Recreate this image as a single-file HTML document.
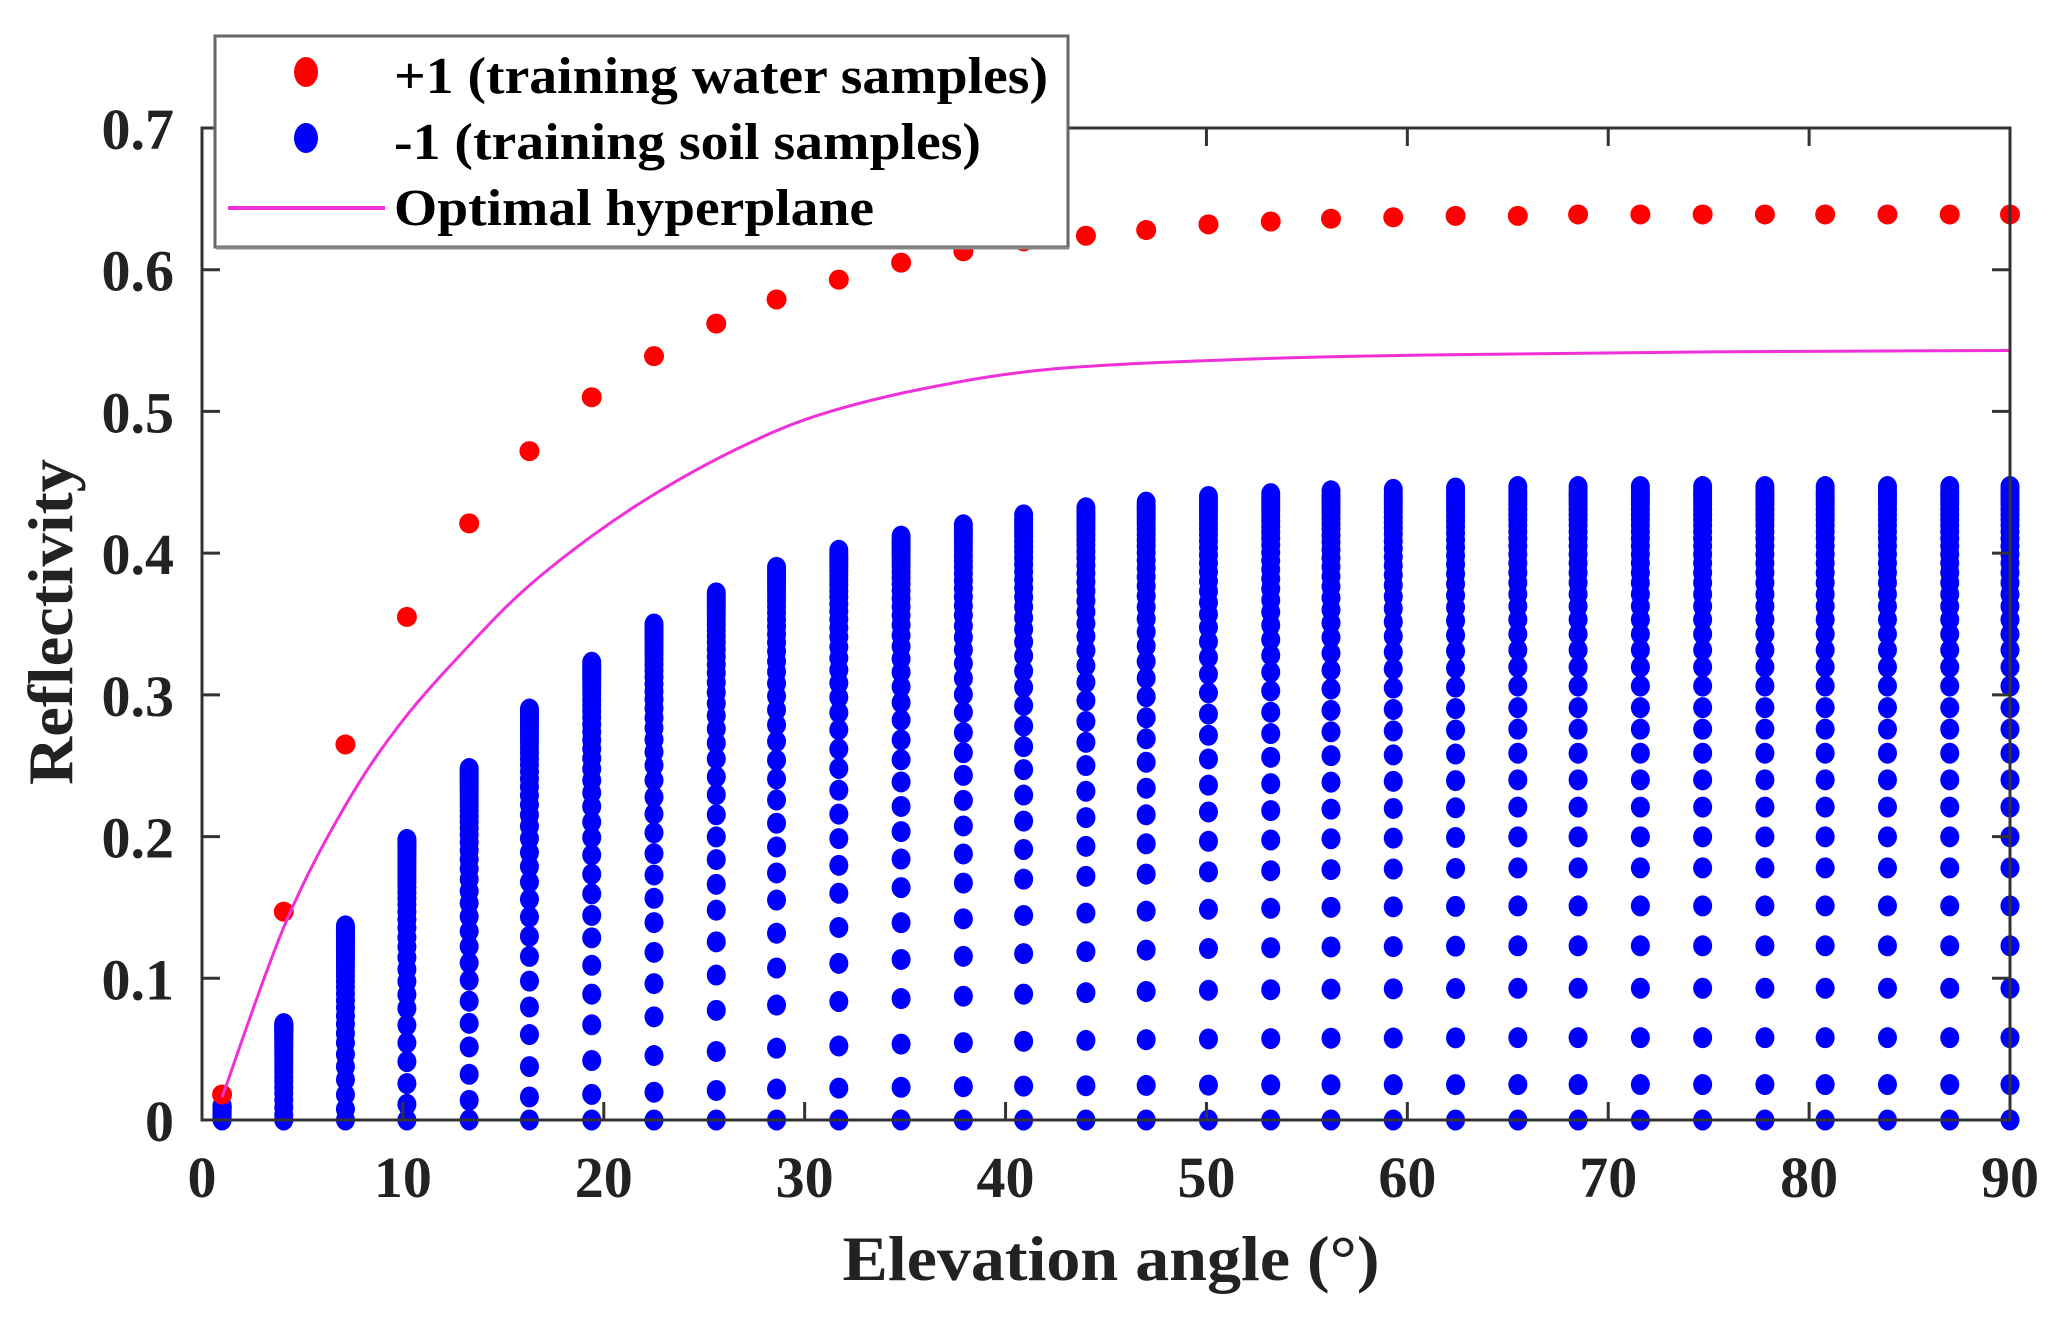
<!DOCTYPE html>
<html><head><meta charset="utf-8"><style>
html,body{margin:0;padding:0;background:#fff;}
svg{display:block;font-family:"Liberation Serif",serif;font-weight:bold;}
</style></head><body>
<svg id="chart" width="2063" height="1317" viewBox="0 0 2063 1317" xmlns="http://www.w3.org/2000/svg">
<g id="soil"></g>
<g id="water"></g>
<path id="hyper" fill="none" stroke="#f030d8" stroke-width="3"/>
<rect x="202" y="128" width="1808" height="992" fill="none" stroke="#333" stroke-width="3"/>
<g id="ticks"></g>
<text transform="translate(72,622) rotate(-90)" text-anchor="middle" font-size="64" textLength="326" lengthAdjust="spacingAndGlyphs" fill="#222">Reflectivity</text>
<text x="1111" y="1280" text-anchor="middle" font-size="64" textLength="537" lengthAdjust="spacingAndGlyphs" fill="#222">Elevation angle (°)</text>
<g>
<rect x="215" y="36" width="853" height="211" fill="#fff" stroke="#666" stroke-width="3"/>
<line x1="216" y1="248" x2="1069" y2="248" stroke="#888" stroke-width="3"/>
<ellipse cx="306" cy="72" rx="12" ry="15" fill="#ff0000"/>
<text x="394" y="93" font-size="52" textLength="654" lengthAdjust="spacingAndGlyphs">+1 (training water samples)</text>
<ellipse cx="306" cy="138" rx="12" ry="15" fill="#0000ff"/>
<text x="394" y="159" font-size="52" textLength="587" lengthAdjust="spacingAndGlyphs">-1 (training soil samples)</text>
<line x1="228" y1="208" x2="385" y2="208" stroke="#f030d8" stroke-width="4"/>
<text x="394" y="225" font-size="52" textLength="480" lengthAdjust="spacingAndGlyphs">Optimal hyperplane</text>
</g>
</svg>
<script>
const angles = [1,4.07,7.14,10.2,13.3,16.3,19.4,22.5,25.6,28.6,31.7,34.8,37.9,40.9,44,47,50.1,53.2,56.2,59.3,62.4,65.5,68.5,71.6,74.7,77.8,80.8,83.9,87,90];
const waterVals = [0.018,0.147,0.265,0.355,0.421,0.472,0.51,0.539,0.562,0.579,0.593,0.605,0.613,0.62,0.624,0.628,0.632,0.634,0.636,0.637,0.638,0.638,0.639,0.639,0.639,0.639,0.639,0.639,0.639,0.639];
const soilMax = [0.01,0.068,0.137,0.198,0.248,0.29,0.323,0.35,0.372,0.39,0.402,0.412,0.42,0.427,0.432,0.436,0.44,0.442,0.444,0.445,0.446,0.447,0.447,0.447,0.447,0.447,0.447,0.447,0.447,0.447];
const soilFractions = [0,0.056,0.13,0.208,0.275,0.338,0.398,0.447,0.494,0.537,0.579,0.617,0.651,0.685,0.715,0.742,0.767,0.79,0.811,0.83,0.848,0.864,0.879,0.893,0.906,0.918,0.929,0.939,0.948,0.956,0.964,0.971,0.977,0.983,0.988,0.993,1.0];
const hyperX = [1,4.1,7.1,10,13.5,16.2,19.5,22.8,26.7,30.6,35.9,42.4,52.2,62,75,90];
const hyperY = [0.016,0.137,0.221,0.282,0.338,0.376,0.413,0.444,0.474,0.497,0.516,0.53,0.537,0.540,0.542,0.543];
const xTicks = [0,10,20,30,40,50,60,70,80,90];
const yTicks = [0,0.1,0.2,0.3,0.4,0.5,0.6,0.7];
const yTickLabels = ["0","0.1","0.2","0.3","0.4","0.5","0.6","0.7"];

const NS = "http://www.w3.org/2000/svg";
const X = v => 202 + (v/90)*1808;
const Y = v => 1120 - (v/0.7)*992;
function mk(tag, attrs){const e=document.createElementNS(NS,tag);for(const k in attrs)e.setAttribute(k,attrs[k]);return e;}

const soil = document.getElementById('soil');
angles.forEach((a,i)=>{
  soilFractions.forEach(f=>{
    const c = mk('ellipse',{cx:X(a),cy:Y(soilMax[i]*f),rx:9.5,ry:10.5,fill:'#0000ff'});
    
    
    soil.appendChild(c);
  });
});
const water = document.getElementById('water');
angles.forEach((a,i)=>{
  const c = mk('circle',{cx:X(a),cy:Y(waterVals[i]),r:10,fill:'#ff0000'});
  
  
  water.appendChild(c);
});
// smooth path through hyperplane points
let d = '';
const pts = hyperX.map((x,i)=>[X(x),Y(hyperY[i])]);
d = 'M'+pts[0][0]+','+pts[0][1];
for(let i=0;i<pts.length-1;i++){
  const p0=pts[Math.max(0,i-1)],p1=pts[i],p2=pts[i+1],p3=pts[Math.min(pts.length-1,i+2)];
  const c1=[p1[0]+(p2[0]-p0[0])/6,p1[1]+(p2[1]-p0[1])/6];
  const c2=[p2[0]-(p3[0]-p1[0])/6,p2[1]-(p3[1]-p1[1])/6];
  d+=' C'+c1.join(',')+' '+c2.join(',')+' '+p2.join(',');
}
document.getElementById('hyper').setAttribute('d', d);

const svg = document.getElementById('chart');
const ticks = document.getElementById('ticks');
xTicks.forEach(t=>{
  const x = X(t);
  ticks.appendChild(mk('line',{x1:x,y1:1120,x2:x,y2:1102,stroke:'#333','stroke-width':3}));
  ticks.appendChild(mk('line',{x1:x,y1:128,x2:x,y2:146,stroke:'#333','stroke-width':3}));
  const tx = mk('text',{x:x,y:1197,'text-anchor':'middle','font-size':58,fill:'#222'});
  tx.textContent = String(t);
  
  
  svg.appendChild(tx);
});
yTicks.forEach((t,i)=>{
  const y = Y(t);
  ticks.appendChild(mk('line',{x1:202,y1:y,x2:220,y2:y,stroke:'#333','stroke-width':3}));
  ticks.appendChild(mk('line',{x1:2010,y1:y,x2:1992,y2:y,stroke:'#333','stroke-width':3}));
  const tx = mk('text',{x:174,y:y+21,'text-anchor':'end','font-size':58,fill:'#222'});
  tx.textContent = yTickLabels[i];
  
  
  svg.appendChild(tx);
});
</script>
</body></html>
